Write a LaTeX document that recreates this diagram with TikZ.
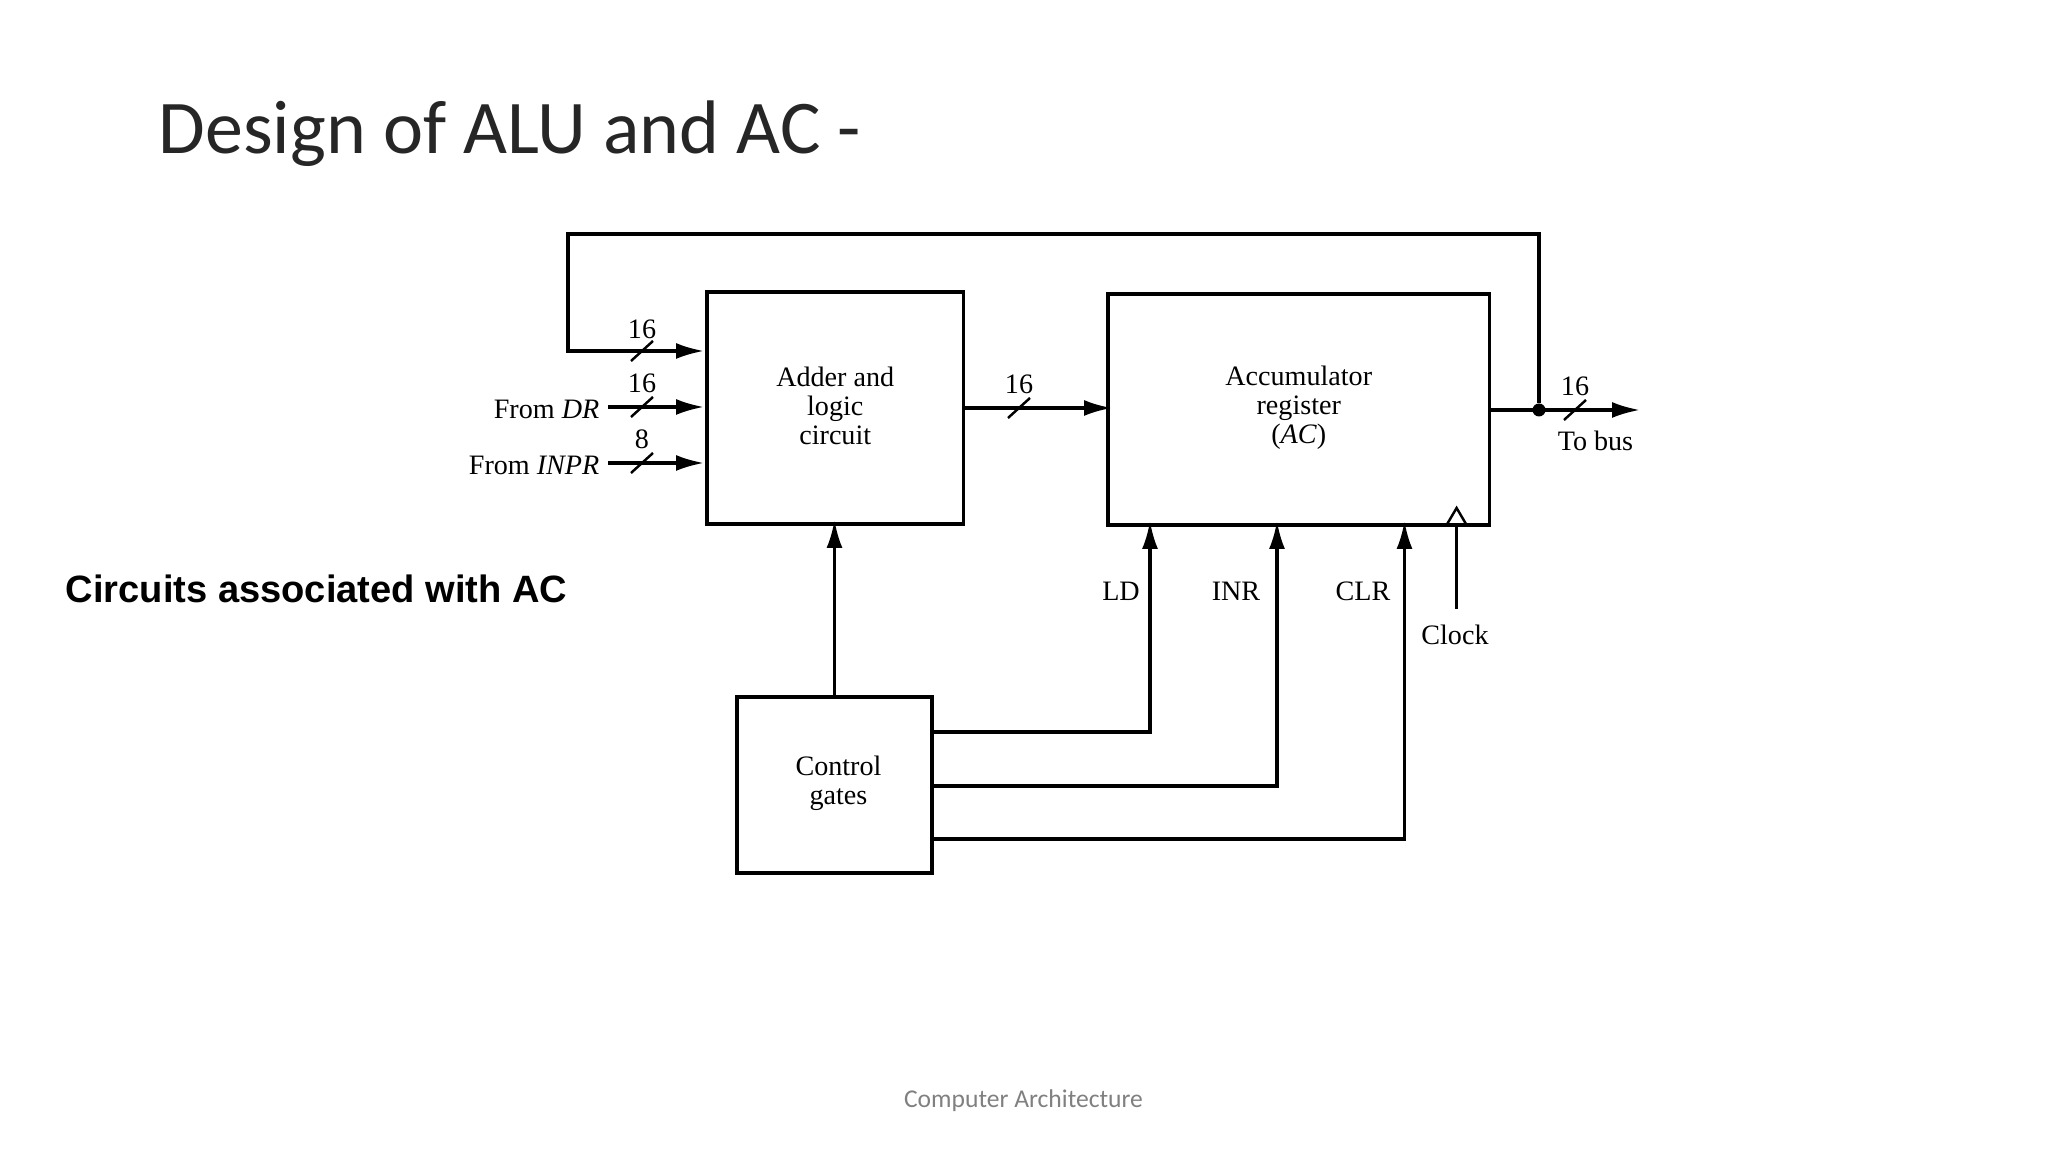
\documentclass[tikz,border=0pt]{standalone}
\usepackage{fontspec}
\usetikzlibrary{arrows.meta}
\setmainfont{Liberation Serif}
\newfontfamily\slidefont{Carlito}
\newfontfamily\labelfont{Liberation Sans}
\tikzset{
    blockbox/.style={draw, line width=0.9pt, inner sep=0pt, outer sep=0pt},
    sigline/.style={line width=0.9pt},
    sigarrow/.style={line width=0.9pt, shorten >=-0.4mm, -{Latex[length=2.8mm,width=1.6mm]}},
    circtext/.style={inner sep=0pt, align=center, font=\fontsize{8}{8.2}\selectfont}
}
\begin{document}
\begin{tikzpicture}
    \useasboundingbox (0,0) rectangle (20.48,11.52);
    % Texte
    \node[anchor=base west, inner sep=0pt, font=\slidefont\fontsize{21.6}{24}\selectfont, text=black!85] (title) at (1.58,9.98) {Design of ALU and AC -};
    \node[anchor=west, inner sep=0pt, font=\labelfont\bfseries\fontsize{10.84}{12}\selectfont] (caption) at (0.65,5.63) {Circuits associated with AC};
    \node[inner sep=0pt, font=\slidefont\fontsize{7.28}{8}\selectfont, text=black!50] (footer) at (10.235,0.51) {Computer Architecture};
    % Bloecke
    \node[blockbox, minimum width=2.565cm, minimum height=2.32cm] (adder) at (8.3525,7.44) {};
    \node[circtext] (addertext) at (8.3525,7.46) {Adder and\\logic\\circuit};
    \node[blockbox, minimum width=3.815cm, minimum height=2.31cm] (ac) at (12.9875,7.425) {};
    \node[circtext] (actext) at (12.9875,7.445) {Accumulator\\register\\(\textit{AC})};
    \node[blockbox, minimum width=1.95cm, minimum height=1.76cm] (ctrl) at (8.345,3.67) {};
    \node[circtext] (ctrltext) at (8.385,3.69) {Control\\gates};
    % Eingaenge
    \node[circtext, anchor=east] (fromdr) at (6.00,7.43) {From \textit{DR}};
    \node[circtext, anchor=east] (frominpr) at (6.00,6.87) {From \textit{INPR}};
    \coordinate (fbtip) at (7.00,8.01);
    \coordinate (drtail) at (6.08,7.45);
    \coordinate (drtip) at (7.00,7.45);
    \coordinate (inprtail) at (6.08,6.89);
    \coordinate (inprtip) at (7.00,6.89);
    \draw[sigarrow] (drtail) -- (drtip);
    \draw[sigarrow] (inprtail) -- (inprtip);
    % Ausgang
    \node[circle, fill, inner sep=0pt, minimum size=0.13cm] (junction) at (15.39,7.42) {};
    \coordinate (bustip) at (16.36,7.42);
    \draw[sigarrow] (ac.east |- junction) -- (bustip);
    \draw[sigarrow] (junction) |- (5.68,9.18) |- (fbtip);
    \draw[sigarrow] (adder.east |- 0,7.44) -- (ac.west |- 0,7.44);
    \node[circtext] (tobus) at (15.955,7.11) {To bus};
    % Steuerleitungen
    \draw[sigarrow] (ctrl.north) -- (ctrl.north |- adder.south);
    \foreach \x/\y in {11.50/4.20, 12.77/3.66, 14.045/3.13}
    {
        \draw[sigarrow] (ctrl.east |- 0,\y) -| (\x,0 |- ac.south);
    }
    \node[circtext] (ld) at (11.21,5.61) {LD};
    \node[circtext] (inr) at (12.36,5.61) {INR};
    \node[circtext] (clr) at (13.63,5.61) {CLR};
    % Takt
    \node[circtext] (clock) at (14.55,5.17) {Clock};
    \coordinate (clkfoot) at (14.566,5.43);
    \draw[sigline] (clkfoot) -- (14.566,6.27);
    \draw[line width=0.7pt] (14.466,6.27) -- (14.566,6.44) -- (14.666,6.27);
    % Busbreiten
    \foreach \n/\x/\y/\ly/\w in {a/6.42/8.01/8.23/16, b/6.42/7.45/7.69/16, c/6.42/6.89/7.13/8, d/10.19/7.44/7.68/16, e/15.75/7.42/7.66/16}
    {
        \draw[line width=0.7pt] (\x-0.11,\y-0.10) -- (\x+0.11,\y+0.10);
        \node[circtext] (width\n) at (\x,\ly) {\w};
    }
\end{tikzpicture}
\end{document}
